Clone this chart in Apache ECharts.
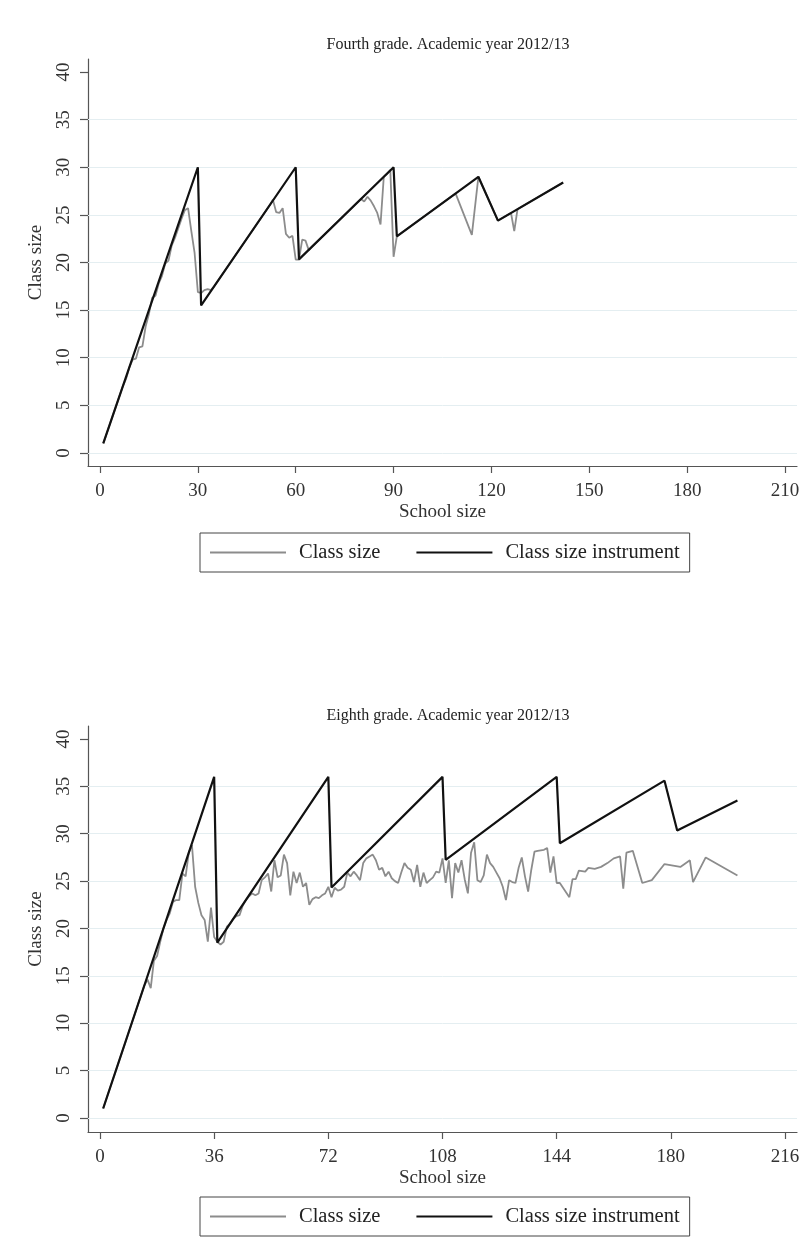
<!DOCTYPE html>
<html>
<head>
<meta charset="utf-8">
<script src="https://cdn.jsdelivr.net/npm/echarts@6/dist/echarts.min.js"></script>
<style>
html,body{margin:0;padding:0;background:#fff;}
#chart{width:812px;height:1258px;}
</style>
</head>
<body>
<div id="chart"></div>
<script>
// ---------- DATA ----------
const seriesNames = ['Class size', 'Class size instrument'];
const titles = ['Fourth grade. Academic year 2012/13', 'Eighth grade. Academic year 2012/13'];

const g4XTicks = [0, 30, 60, 90, 120, 150, 180, 210];
const g8XTicks = [0, 36, 72, 108, 144, 180, 216];
const yTicks = [0, 5, 10, 15, 20, 25, 30, 35, 40];
const yGridLines = [0, 5, 10, 15, 20, 25, 30, 35];

// Fourth grade: [school size, class size]
const g4ClassSize = [
  [1,1],[2,2],[3,3],[4,4],[5,5],[6,6],[7,7],[8,7.8],[9,9],[10,9.8],[11,9.9],[12,11.1],[13,11.2],
  [14,13.3],[15,14.6],[16,16.3],[17,16.5],[18,17.8],[19,18.6],[20,19.9],[21,20.2],[22,21.8],
  [23,22.6],[24,23.6],[25,24.6],[26,25.5],[27,25.7],[28,23.3],[29,21],[30,16.9],[31,16.8],
  [32,17.1],[33,17.2],[34,17.1],[35,17.5],[40,20],[45,22.5],[50,25],[52,26],[53,26.6],
  [54,25.3],[55,25.2],[56,25.7],[57,23],[58,22.6],[59,22.8],[60,20.3],[61,20.3],[62,22.4],
  [63,22.3],[64,21.3],[65,21.67],[70,23.33],[75,25],[80,26.67],[81,26.4],[82,26.9],[83,26.5],
  [84,25.9],[85,25.2],[86,24],[87,29],[88,29.3],[89,29.7],[90,20.6],[91,22.75],[95,23.75],
  [100,25],[105,26.25],[109,27.25],[114,22.9],[116,29],[122,24.4],[125,25],[126,25.2],
  [127,23.3],[128,25.6],[129,25.8],[135,27],[142,28.4]
];
// Fourth grade: [school size, class size instrument]
const g4Instrument = [
  [1,1],[30,30],[31,15.5],[60,30],[61,20.33],[90,30],[91,22.75],[116,29],[122,24.4],[142,28.4]
];

// Eighth grade: [school size, class size]
const g8ClassSize = [
  [1,1],[2,2],[3,3],[4,4],[5,5],[6,6],[7,7],[8,8],[9,9],[10,10],[11,11],[12,12],[13,13],[14,14],
  [15,14.6],[16,13.7],[17,16.6],[18,17.1],[19,18.6],[20,20],[21,20.9],[22,21.6],[23,22.8],
  [24,23],[25,23],[26,25.8],[27,25.5],[28,28],[29,28.8],[30,24.4],[31,22.7],[32,21.4],[33,20.9],
  [34,18.6],[35,22.2],[36,19.1],[37,18.6],[38,18.3],[39,18.6],[40,20.2],[41,20.5],[42,21],
  [43,21.3],[44,21.4],[45,22.4],[46,23],[47,23.4],[48,23.7],[49,23.5],[50,23.7],[51,25.1],
  [52,25.4],[53,25.8],[54,23.9],[55,27.2],[56,25.4],[57,25.6],[58,27.8],[59,26.9],[60,23.5],
  [61,26],[62,24.8],[63,25.9],[64,24.4],[65,24.8],[66,22.5],[67,23.1],[68,23.3],[69,23.2],
  [70,23.5],[71,23.7],[72,24.4],[73,23.3],[74,24.3],[75,24],[76,24.1],[77,24.4],[78,25.9],
  [79,25.5],[80,26],[81,25.6],[82,25.1],[83,26.9],[84,27.4],[85,27.6],[86,27.8],[87,27.2],
  [88,26.2],[89,26.4],[90,25.5],[91,26],[92,25.3],[93,25],[94,24.8],[95,25.9],[96,26.9],
  [97,26.4],[98,26.2],[99,24.9],[100,26.7],[101,24.4],[102,25.9],[103,24.8],[104,25.1],
  [105,25.4],[106,26],[107,25.9],[108,27.4],[109,24.8],[110,27.2],[111,23.2],[112,26.9],
  [113,25.9],[114,27.2],[115,25.2],[116,23.7],[117,28],[118,29.1],[119,25.1],[120,24.9],
  [121,25.6],[122,27.8],[123,26.9],[124,26.5],[125,25.9],[126,25.3],[127,24.4],[128,23],
  [129,25.1],[130,24.9],[131,24.8],[132,26.4],[133,27.5],[134,25.5],[135,23.9],[136,26.2],
  [137,28.1],[138,28.2],[140,28.3],[141,28.5],[142,25.9],[143,27.6],[144,24.8],[145,24.8],
  [148,23.3],[149,25.2],[150,25.2],[151,26.1],[153,26],[154,26.4],[156,26.3],[158,26.5],
  [160,26.9],[162,27.4],[164,27.6],[165,24.2],[166,28],[168,28.2],[171,24.8],[174,25.1],
  [178,26.8],[183,26.5],[186,27.2],[187,24.9],[191,27.5],[201,25.6]
];
// Eighth grade: [school size, class size instrument]
const g8Instrument = [
  [1,1],[36,36],[37,18.5],[72,36],[73,24.33],[108,36],[109,27.25],[144,36],[145,29],
  [178,35.6],[182,30.33],[201,33.5]
];

// ---------- STYLE ----------
const FONT = '"Liberation Serif", "DejaVu Serif", serif';
const AXIS_COLOR = '#555';
const TEXT_COLOR = '#333';
const GRAY = '#8c8c8c';
const BLACK = '#111';

function xAxisCfg(gi, min, max, ticks) {
  return {
    type: 'value', gridIndex: gi, min: min, max: max,
    name: 'School size', nameLocation: 'middle', nameGap: 37,
    nameTextStyle: { fontFamily: FONT, fontSize: 19, color: TEXT_COLOR },
    axisLine: { show: true, onZero: false, lineStyle: { color: AXIS_COLOR, width: 1.2 } },
    axisTick: { show: true, customValues: ticks, length: 7, lineStyle: { color: AXIS_COLOR, width: 1.2 } },
    axisLabel: { customValues: ticks, margin: 16, fontFamily: FONT, fontSize: 19, color: TEXT_COLOR },
    splitLine: { show: false }
  };
}
function yAxisCfg(gi, min, max) {
  return {
    type: 'value', gridIndex: gi, min: min, max: max,
    name: 'Class size', nameLocation: 'middle', nameGap: 42, nameRotate: 90,
    nameTextStyle: { fontFamily: FONT, fontSize: 19, color: TEXT_COLOR },
    axisLine: { show: true, onZero: false, lineStyle: { color: AXIS_COLOR, width: 1.2 } },
    axisTick: { show: true, customValues: yTicks, length: 8, lineStyle: { color: AXIS_COLOR, width: 1.2 } },
    axisLabel: { customValues: yTicks, rotate: 90, margin: 14, fontFamily: FONT, fontSize: 19, color: TEXT_COLOR },
    splitLine: { show: false }
  };
}
function graySeries(gi, data) {
  return {
    name: seriesNames[0], type: 'line', xAxisIndex: gi, yAxisIndex: gi,
    data: data, symbol: 'none', showSymbol: false, z: 2,
    lineStyle: { color: GRAY, width: 1.8 }, itemStyle: { color: GRAY },
    markLine: {
      silent: true, z: 1, symbol: ['none', 'none'], label: { show: false },
      lineStyle: { color: '#e4eef1', width: 1, type: 'solid' },
      emphasis: { disabled: true },
      data: yGridLines.map(v => ({ yAxis: v }))
    }
  };
}
function blackSeries(gi, data) {
  return {
    name: seriesNames[1], type: 'line', xAxisIndex: gi, yAxisIndex: gi,
    data: data, symbol: 'none', showSymbol: false, z: 3,
    lineStyle: { color: BLACK, width: 2.2 }, itemStyle: { color: BLACK }
  };
}
function legendCfg(top) {
  return {
    data: [
      { name: seriesNames[0], icon: 'rect', itemStyle: { color: GRAY } },
      { name: seriesNames[1], icon: 'rect', itemStyle: { color: BLACK } }
    ],
    left: 200, top: top, orient: 'horizontal',
    itemWidth: 76, itemHeight: 2, itemGap: 36,
    padding: [9, 10, 9, 10], borderColor: '#444', borderWidth: 1,
    textStyle: { fontFamily: FONT, fontSize: 20.5, color: '#222', padding: [0, 0, 0, 8] }
  };
}

const chart = echarts.init(document.getElementById('chart'), null, { renderer: 'canvas' });
chart.setOption({
  animation: false,
  backgroundColor: '#fff',
  title: [
    { text: titles[0], left: 443, top: 32, textAlign: 'center',
      textStyle: { fontFamily: FONT, fontSize: 16, fontWeight: 'normal', color: '#222' } },
    { text: titles[1], left: 443, top: 703, textAlign: 'center',
      textStyle: { fontFamily: FONT, fontSize: 16, fontWeight: 'normal', color: '#222' } }
  ],
  grid: [
    { left: 88, top: 59, width: 709, height: 407 },
    { left: 88, top: 726, width: 709, height: 406 }
  ],
  xAxis: [
    xAxisCfg(0, -3.68, 213.68, g4XTicks),
    xAxisCfg(1, -3.78, 219.78, g8XTicks)
  ],
  yAxis: [
    yAxisCfg(0, -1.365, 41.365),
    yAxisCfg(1, -1.48, 41.37)
  ],
  legend: [legendCfg(533), legendCfg(1197)],
  series: [
    graySeries(0, g4ClassSize),
    blackSeries(0, g4Instrument),
    graySeries(1, g8ClassSize),
    blackSeries(1, g8Instrument)
  ]
});
</script>
</body>
</html>
